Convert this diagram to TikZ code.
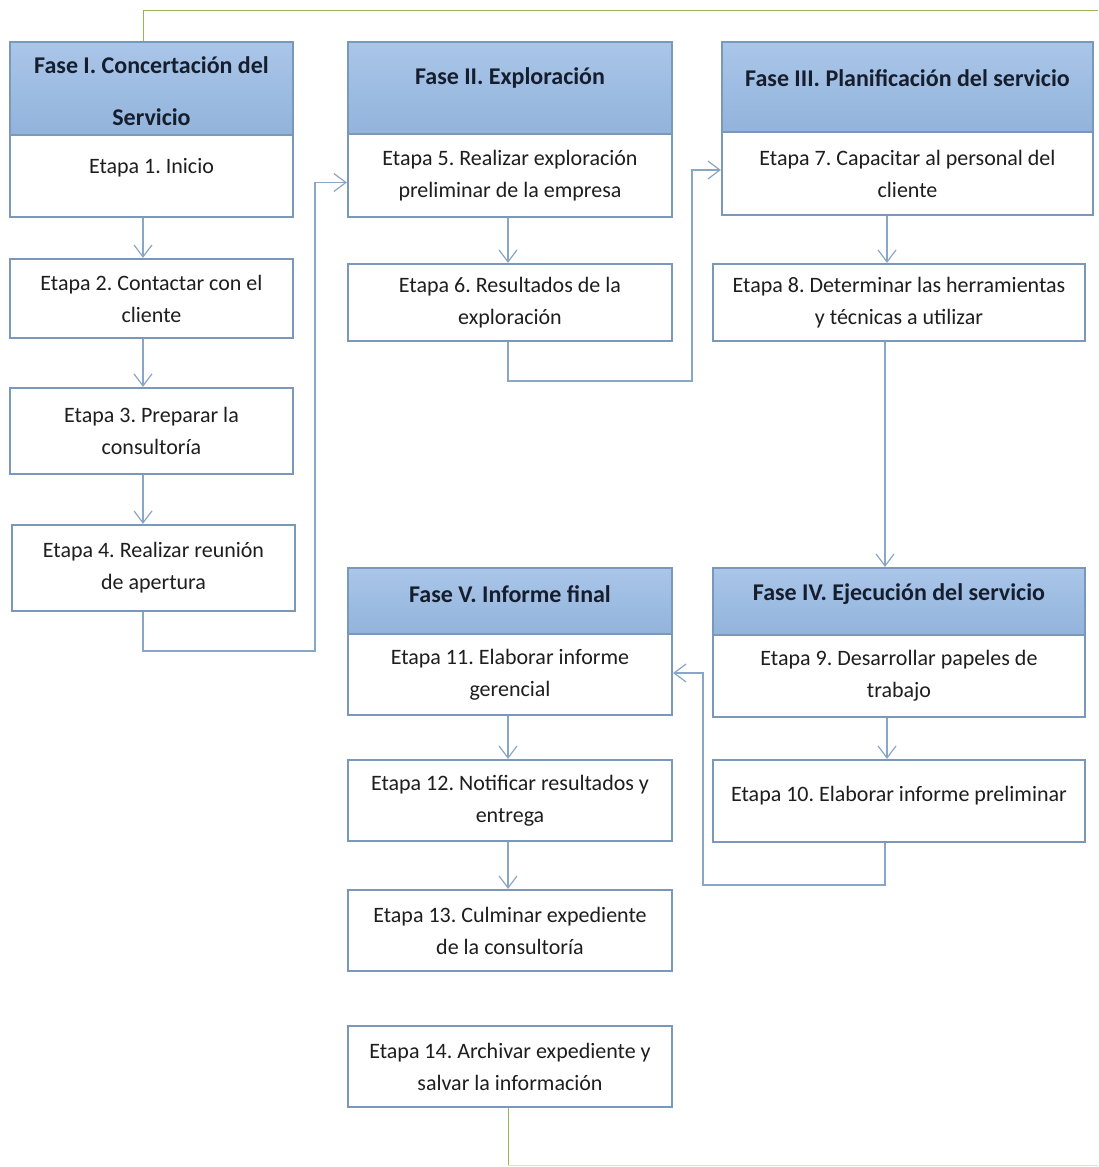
\documentclass[tikz,border=0pt]{standalone}
\usepackage{fontspec}
\setmainfont{Carlito}
\usetikzlibrary{arrows.meta}
\definecolor{hdrtop}{RGB}{170,198,233}
\definecolor{hdrbot}{RGB}{146,179,219}
\definecolor{boxline}{RGB}{122,153,186}
\definecolor{conn}{RGB}{138,166,198}
\definecolor{hdrtext}{RGB}{22,30,45}
\definecolor{txt}{RGB}{30,30,30}
\definecolor{grn}{RGB}{150,180,90}
\definecolor{grnlight}{RGB}{215,232,180}
\tikzset{
  stagebox/.style={draw=boxline, line width=1.1pt, fill=white, align=center,
    text=txt, font=\frenchspacing\fontsize{11}{16}\selectfont, inner sep=2pt},
  hdrbox/.style={draw=boxline, line width=1.1pt, top color=hdrtop, bottom color=hdrbot},
  hdrlabel/.style={font=\frenchspacing\bfseries\fontsize{12}{14}\selectfont, text=hdrtext, align=center},
  flow/.style={draw=conn, line width=0.6pt, -{Straight Barb[length=6pt,width=9pt]}},
  loopline/.style={draw=grn, line width=0.5pt},
}
\begin{document}
\begin{tikzpicture}[x=0.5pt,y=-0.5pt]
\useasboundingbox (0,0) rectangle (1098,1167);
% helper coordinates
\coordinate (x143) at (143,0);
\coordinate (x508) at (508,0);
\coordinate (x887) at (887,0);
\coordinate (x885) at (885,0);
\coordinate (j1) at (315,651);
\coordinate (j2) at (692,381);
\coordinate (j3) at (703,885);
\coordinate (gtop) at (1098,10);
\coordinate (gbot) at (508,1165);
\coordinate (gend) at (1098,1165);

% green loop (behind)
\draw[loopline] (x143 |- 0,42) |- (gtop);
% Column I
\node[hdrbox, minimum width=141.5pt, minimum height=46.5pt,
  label={[hdrlabel, name=h1t, yshift=-1.5pt]center:Fase I. Concertación del\\[12pt]Servicio}] (h1) at (151.5,88.5) {};
\node[stagebox, minimum width=141.5pt, minimum height=41pt] (e1) at (151.5,176) {\raisebox{10pt}{Etapa 1. Inicio}};
\node[stagebox, minimum width=141.5pt, minimum height=39.5pt] (e2) at (151.5,298.5) {Etapa 2. Contactar con el\\cliente};
\node[stagebox, minimum width=141.5pt, minimum height=43pt] (e3) at (151.5,431) {Etapa 3. Preparar la\\consultoría};
\node[stagebox, minimum width=141.5pt, minimum height=43pt] (e4) at (153.5,568) {Etapa 4. Realizar reunión\\de apertura};
% Column II
\node[hdrbox, minimum width=162pt, minimum height=46pt,
  label={[hdrlabel, name=h2t, yshift=5pt]center:Fase II. Exploración}] (h2) at (510,88) {};
\node[stagebox, minimum width=162pt, minimum height=41.5pt] (e5) at (510,175.5) {Etapa 5. Realizar exploración\\preliminar de la empresa};
\node[stagebox, minimum width=162pt, minimum height=38.5pt] (e6) at (510,302.5) {Etapa 6. Resultados de la\\exploración};
% Column III
\node[hdrbox, minimum width=185.5pt, minimum height=45pt,
  label={[hdrlabel, name=h3t, yshift=4.5pt]center:Fase III. Planificación del servicio}] (h3) at (907.5,87) {};
\node[stagebox, minimum width=185.5pt, minimum height=41.5pt] (e7) at (907.5,173.5) {Etapa 7. Capacitar al personal del\\cliente};
\node[stagebox, minimum width=186pt, minimum height=38.5pt] (e8) at (899,302.5) {Etapa 8. Determinar las herramientas\\y técnicas a utilizar};
% Column IV
\node[hdrbox, minimum width=186pt, minimum height=33.5pt,
  label={[hdrlabel, name=h4t, yshift=3.5pt]center:Fase IV. Ejecución del servicio}] (h4) at (899,601.5) {};
\node[stagebox, minimum width=186pt, minimum height=41pt] (e9) at (899,676) {Etapa 9. Desarrollar papeles de\\trabajo};
\node[stagebox, minimum width=186pt, minimum height=41pt] (e10) at (899,801) {\raisebox{7pt}{Etapa 10. Elaborar informe preliminar}};
% Column V
\node[hdrbox, minimum width=162pt, minimum height=33pt,
  label={[hdrlabel, name=h5t, yshift=3.5pt]center:Fase V. Informe final}] (h5) at (510,601) {};
\node[stagebox, minimum width=162pt, minimum height=40.5pt] (e11) at (510,674.5) {Etapa 11. Elaborar informe\\gerencial};
\node[stagebox, minimum width=162pt, minimum height=40.5pt] (e12) at (510,800.5) {Etapa 12. Notificar resultados y\\entrega};
\node[stagebox, minimum width=162pt, minimum height=40.5pt] (e13) at (510,930.5) {Etapa 13. Culminar expediente\\de la consultoría};
\node[stagebox, minimum width=162pt, minimum height=40.5pt] (e14) at (510,1066.5) {Etapa 14. Archivar expediente y\\salvar la información};

% connectors
\draw[flow] (e1.south -| x143) -- (e2.north -| x143);
\draw[flow] (e2.south -| x143) -- (e3.north -| x143);
\draw[flow] (e3.south -| x143) -- (e4.north -| x143);
\draw[flow] (e4.south -| x143) |- (j1) |- ([yshift=-3.5pt]e5.west);
\draw[flow] (e5.south -| x508) -- (e6.north -| x508);
\draw[flow] (e6.south -| x508) |- (j2) |- ([yshift=1.75pt]e7.west);
\draw[flow] (e7.south -| x887) -- (e8.north -| x887);
\draw[flow] (e8.south -| x885) -- (h4.north -| x885);
\draw[flow] (e9.south -| x887) -- (e10.north -| x887);
\draw[flow] (e10.south -| x885) |- (j3) |- ([yshift=0.75pt]e11.east);
\draw[flow] (e11.south -| x508) -- (e12.north -| x508);
\draw[flow] (e12.south -| x508) -- (e13.north -| x508);
% green return line
\draw[loopline] (e14.south -| x508) -- (gbot);
\draw[draw=grnlight, line width=0.5pt] (gbot) -- (gend);
\end{tikzpicture}
\end{document}
